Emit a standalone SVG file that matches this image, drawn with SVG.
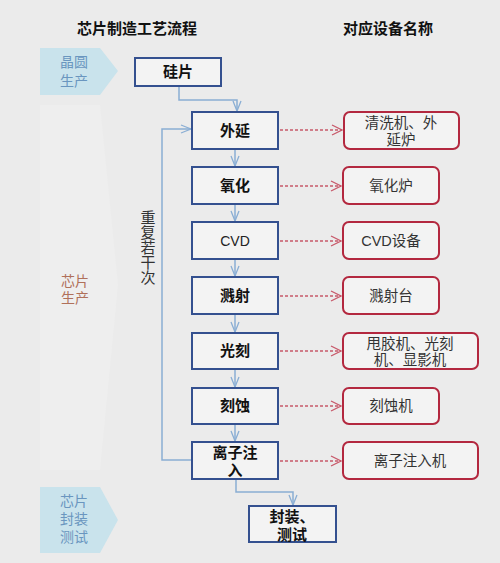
<svg xmlns="http://www.w3.org/2000/svg" width="500" height="563" viewBox="0 0 500 563">
<defs>
<style>
.t{font-family:"Liberation Sans","Noto Sans CJK SC",sans-serif;}
.title{font-size:15px;font-weight:bold;fill:#111;}
.n{fill:#f3f3f3;stroke:#34508f;stroke-width:2;}
.nt{font-size:15px;font-weight:bold;fill:#111;}
.e{fill:#f3f3f3;stroke:#b3283f;stroke-width:2;}
.et{font-size:14.5px;fill:#333;}
.blue{fill:none;stroke:#8aaed4;stroke-width:1.5;}
.red{fill:none;stroke:#c8596a;stroke-width:1.3;stroke-dasharray:3 2;}
.side{font-size:14px;}
</style>
<marker id="ab" viewBox="0 0 12 10" refX="11" refY="5" markerWidth="12" markerHeight="10" markerUnits="userSpaceOnUse" orient="auto"><path d="M1,1 L11,5 L1,9" fill="none" stroke="#8aaed4" stroke-width="1.3"/></marker>
<marker id="ar" viewBox="0 0 12 12" refX="11" refY="6" markerWidth="12" markerHeight="12" markerUnits="userSpaceOnUse" orient="auto"><path d="M1,1 L11,6 L1,11" fill="none" stroke="#c8596a" stroke-width="1.3"/></marker>
</defs>
<rect width="500" height="563" fill="#ebebeb"/>
<text class="t title" x="137" y="34" text-anchor="middle">芯片制造工艺流程</text>
<text class="t title" x="388" y="34" text-anchor="middle">对应设备名称</text>

<g id="stage-wafer">
<path d="M40,48 H100 L118,71 L100,95 H40 Z" fill="#c9e3ec"/>
<text class="t side" text-anchor="middle" fill="#6a96bf"><tspan x="74" y="67">晶圆</tspan><tspan x="74" y="86">生产</tspan></text>
</g>
<g id="stage-chip">
<path d="M40,105 H100 L118,285 L100,470 H40 Z" fill="#eeeeee"/>
<text class="t side" text-anchor="middle" fill="#b0705a"><tspan x="75" y="286">芯片</tspan><tspan x="75" y="303">生产</tspan></text>
</g>
<g id="stage-pack">
<path d="M40,487 H100 L118,520 L100,553 H40 Z" fill="#c9e3ec"/>
<text class="t side" text-anchor="middle" fill="#6a96bf"><tspan x="74" y="506">芯片</tspan><tspan x="74" y="524">封装</tspan><tspan x="74" y="542">测试</tspan></text>
</g>

<g id="connectors">
<path class="blue" d="M179,86 V100 H237 V111" marker-end="url(#ab)"/>
<path class="blue" d="M235,149 V166" marker-end="url(#ab)"/>
<path class="blue" d="M235,204 V221" marker-end="url(#ab)"/>
<path class="blue" d="M235,259 V276" marker-end="url(#ab)"/>
<path class="blue" d="M235,314 V332" marker-end="url(#ab)"/>
<path class="blue" d="M235,369 V387" marker-end="url(#ab)"/>
<path class="blue" d="M235,424 V441" marker-end="url(#ab)"/>
<path class="blue" d="M192,460 H162 V129 H191" marker-end="url(#ab)"/>
<path class="blue" d="M236,479 V492 H293 V505" marker-end="url(#ab)"/>
<path class="red" d="M280,130 H342" marker-end="url(#ar)"/>
<path class="red" d="M280,186 H341" marker-end="url(#ar)"/>
<path class="red" d="M280,241 H341" marker-end="url(#ar)"/>
<path class="red" d="M280,296 H341" marker-end="url(#ar)"/>
<path class="red" d="M280,351 H341" marker-end="url(#ar)"/>
<path class="red" d="M280,406 H341" marker-end="url(#ar)"/>
<path class="red" d="M280,461 H341" marker-end="url(#ar)"/>
<text class="t" x="147" y="210" font-size="15" fill="#333" writing-mode="vertical-rl">重复若干次</text>
</g>

<g id="n-wafer"><rect class="n" x="135" y="58" width="86" height="28"/><text class="t nt" x="178" y="77" text-anchor="middle">硅片</text></g>
<g id="n-epi"><rect class="n" x="192" y="112" width="86" height="37"/><text class="t nt" x="235" y="136" text-anchor="middle">外延</text></g>
<g id="n-ox"><rect class="n" x="192" y="167" width="86" height="37"/><text class="t nt" x="235" y="191" text-anchor="middle">氧化</text></g>
<g id="n-cvd"><rect class="n" x="192" y="222" width="86" height="37"/><text class="t" x="235" y="246" text-anchor="middle" font-size="14" fill="#222">CVD</text></g>
<g id="n-sput"><rect class="n" x="192" y="277" width="86" height="37"/><text class="t nt" x="235" y="301" text-anchor="middle">溅射</text></g>
<g id="n-litho"><rect class="n" x="192" y="333" width="86" height="36"/><text class="t nt" x="235" y="356" text-anchor="middle">光刻</text></g>
<g id="n-etch"><rect class="n" x="192" y="388" width="86" height="36"/><text class="t nt" x="235" y="411" text-anchor="middle">刻蚀</text></g>
<g id="n-ion"><rect class="n" x="192" y="442" width="86" height="37"/><text class="t nt" text-anchor="middle"><tspan x="235" y="458">离子注</tspan><tspan x="235" y="476">入</tspan></text></g>
<g id="n-pack"><rect class="n" x="249" y="506" width="87" height="36"/><text class="t nt" text-anchor="middle"><tspan x="292" y="522">封装、</tspan><tspan x="292" y="540">测试</tspan></text></g>

<g id="e-epi"><rect class="e" x="344" y="112" width="115" height="37" rx="6"/><text class="t et" text-anchor="middle"><tspan x="401" y="128">清洗机、外</tspan><tspan x="401" y="145">延炉</tspan></text></g>
<g id="e-ox"><rect class="e" x="343" y="167" width="96" height="37" rx="6"/><text class="t et" x="391" y="191" text-anchor="middle">氧化炉</text></g>
<g id="e-cvd"><rect class="e" x="343" y="222" width="96" height="37" rx="6"/><text class="t et" x="391" y="246" text-anchor="middle">CVD设备</text></g>
<g id="e-sput"><rect class="e" x="343" y="277" width="96" height="37" rx="6"/><text class="t et" x="391" y="301" text-anchor="middle">溅射台</text></g>
<g id="e-litho"><rect class="e" x="343" y="333" width="135" height="36" rx="6"/><text class="t et" text-anchor="middle"><tspan x="410" y="349">甩胶机、光刻</tspan><tspan x="410" y="365">机、显影机</tspan></text></g>
<g id="e-etch"><rect class="e" x="343" y="388" width="96" height="36" rx="6"/><text class="t et" x="391" y="411" text-anchor="middle">刻蚀机</text></g>
<g id="e-ion"><rect class="e" x="343" y="442" width="135" height="37" rx="6"/><text class="t et" x="410" y="466" text-anchor="middle">离子注入机</text></g>
</svg>
